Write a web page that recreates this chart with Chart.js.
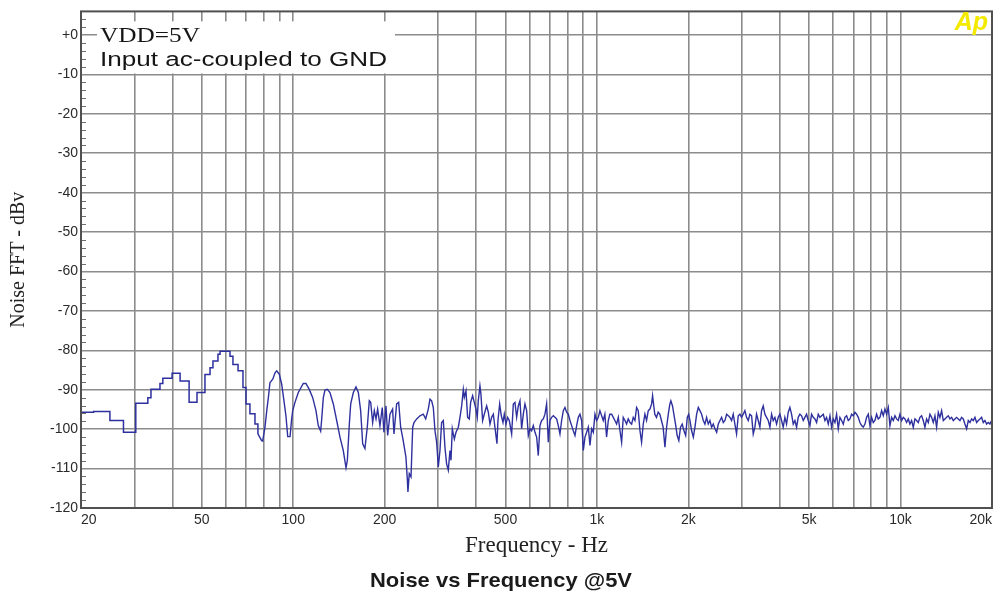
<!DOCTYPE html>
<html>
<head>
<meta charset="utf-8">
<title>Noise vs Frequency @5V</title>
<script src="https://cdn.jsdelivr.net/npm/chart.js@4.4.0/dist/chart.umd.min.js"></script>
<style>
  html, body { margin: 0; padding: 0; background: #fff; }
  #wrap { width: 997px; height: 598px; }
</style>
</head>
<body>
<div id="wrap"><canvas id="noiseChart" width="997" height="598"></canvas></div>
<script>
// [Hz, dBV]. Low bins are drawn as steps.
var lowBins = [
  [20, -95.7], [22.0, -95.5], [24.9, -97.8], [27.6, -100.8], [30.3, -93.4], [33.2, -92.0],
  [34.0, -89.9], [36.4, -88.4], [37.2, -87.1], [39.9, -85.8], [42.4, -87.8], [45.4, -93.2],
  [48.2, -90.7], [51.2, -86.1], [53.2, -84.4], [54.4, -82.7], [56.5, -81.0], [57.4, -80.2],
  [61.9, -81.5], [63.3, -83.6], [65.8, -85.2], [68.3, -89.4], [69.9, -93.6], [72.0, -96.1],
  [74.8, -98.7], [76.5, -101.2]
];

var midTrace = [
  [76.5, -101.2], [78.7, -102.9], [79.3, -103.0], [80.7, -99.5], [81.8, -95.3], [82.8, -92.0],
  [83.8, -88.2], [85.6, -87.3], [87.1, -85.7], [88.2, -85.2], [90.0, -86.1], [91.6, -88.6],
  [92.7, -91.5], [94.6, -96.6], [95.9, -101.9], [97.6, -101.9], [98.8, -97.4], [99.6, -95.3],
  [101.3, -93.2], [103.9, -90.7], [107.9, -88.4], [110.1, -88.4], [112.9, -89.9], [115.9, -92.0],
  [118.8, -95.3], [120.9, -99.1], [123.1, -100.5], [124.1, -97.4], [125.6, -92.0], [127.2, -90.1],
  [129.4, -89.9], [132.1, -90.7], [135.5, -93.6], [139.0, -97.8], [142.5, -102.0], [146.1, -105.4],
  [149.2, -109.8], [150.7, -107.9], [153.0, -98.7], [154.6, -93.6], [157.7, -90.7], [160.9, -89.3],
  [163.8, -90.7], [166.7, -95.3], [169.3, -103.7], [172.2, -104.9], [175.3, -99.5], [178.0, -92.8],
  [179.9, -93.2], [182.6, -98.3], [184.9, -95.3], [187.3, -97.4], [189.6, -94.9], [193.0, -99.1],
  [196.4, -94.5], [198.9, -100.8], [202.0, -94.1], [204.6, -101.6], [208.2, -96.2], [212.4, -94.9],
  [214.6, -101.2], [219.0, -93.6], [222.4, -93.2], [225.8, -99.5], [230.2, -102.9], [235.0, -107.1],
  [237.4, -112.5], [238.6, -115.9], [241.0, -111.3], [244.2, -112.1], [247.4, -99.5], [249.8, -98.3],
  [255.0, -97.4], [261.4, -96.6], [268.0, -96.2], [273.0, -97.4], [278.4, -94.9]
];

var kiloTrace = [
  [282.0, -92.4], [285.6, -92.8], [289.2, -94.5], [292.9, -100.4], [296.6, -103.3], [300.4, -109.6],
  [304.2, -105.4], [308.0, -98.3], [312.0, -97.8], [315.9, -104.6], [319.9, -108.8], [324.0, -110.4],
  [328.2, -105.4], [330.7, -107.9], [334.0, -99.9], [339.2, -102.5], [343.5, -100.8], [349.6, -99.5],
  [354.0, -97.0], [358.6, -94.1], [363.1, -89.9], [365.9, -91.9], [370.5, -90.3], [375.2, -97.0],
  [380.0, -97.4], [383.8, -93.2], [389.7, -91.5], [394.6, -93.2], [399.6, -94.9], [403.6, -97.0],
  [406.7, -92.8], [411.9, -89.0], [415.0, -91.1], [420.3, -97.8], [425.6, -96.2], [433.4, -94.1],
  [438.9, -95.7], [444.5, -98.7], [450.1, -97.0], [455.9, -96.2], [468.6, -103.7], [472.2, -97.8],
  [478.3, -93.6], [484.4, -96.6], [490.5, -98.3], [495.4, -96.2], [501.7, -98.7], [508.1, -97.0],
  [514.5, -97.8], [523.8, -101.2], [530.5, -93.6], [537.2, -93.2], [544.1, -97.0], [550.9, -94.1],
  [558.0, -92.8], [565.1, -99.9], [572.3, -96.2], [579.5, -93.6], [586.9, -95.3], [594.4, -101.6],
  [601.9, -99.9], [609.6, -100.4], [617.3, -99.1], [625.2, -100.8], [633.1, -102.0], [641.1, -106.7],
  [649.3, -99.1], [657.5, -97.8], [665.9, -97.4], [674.4, -96.2], [682.9, -93.6], [691.6, -103.3],
  [700.4, -97.8], [709.3, -97.0], [718.4, -96.6], [727.5, -97.0], [736.8, -97.4], [746.1, -99.1],
  [755.6, -101.2], [765.2, -97.8], [775.0, -95.3], [784.8, -94.5], [794.8, -95.7], [804.9, -96.2],
  [815.2, -97.8], [825.6, -99.1], [836.0, -100.4], [846.7, -101.6], [857.5, -99.1], [868.4, -97.0],
  [879.4, -96.2], [890.6, -97.8], [902.0, -105.4], [913.4, -102.0], [925.0, -100.8], [936.8, -99.5],
  [948.7, -104.1], [960.7, -99.9], [972.9, -100.8], [985.3, -96.2], [997.8, -97.8], [1010.5, -97.0],
  [1023, -95.3]
];

var upperTrace = [
  [1049, -97.8], [1062, -96.2], [1076, -102.0], [1090, -97.8], [1103, -96.2], [1118, -96.2],
  [1132, -97.0], [1146, -97.8], [1161, -98.7], [1176, -97.0], [1191, -100.4], [1206, -103.3],
  [1221, -97.0], [1237, -97.8], [1252, -98.7], [1268, -97.4], [1285, -98.3], [1301, -98.7],
  [1317, -97.0], [1334, -97.8], [1351, -94.5], [1368, -95.3], [1386, -100.4], [1403, -103.3],
  [1421, -98.7], [1439, -96.2], [1457, -97.8], [1476, -95.3], [1495, -94.9], [1514, -93.6],
  [1525, -91.5], [1541, -94.5], [1551, -96.2], [1571, -97.0], [1591, -95.7], [1611, -96.2],
  [1631, -97.8], [1652, -99.5], [1675, -104.6], [1696, -99.5], [1718, -96.2], [1739, -93.6],
  [1752, -92.8], [1774, -94.1], [1792, -96.2], [1815, -98.7], [1838, -101.6], [1861, -102.9],
  [1885, -99.5], [1909, -98.7], [1935, -100.4], [1960, -101.6], [1984, -97.0], [2005, -96.2],
  [2025, -97.8], [2051, -100.4], [2077, -102.0], [2103, -99.5], [2130, -96.2], [2157, -94.5],
  [2184, -95.3], [2212, -96.2], [2240, -97.8], [2268, -98.7], [2297, -97.0], [2326, -98.7],
  [2356, -97.8], [2386, -99.5], [2416, -98.7], [2447, -99.9], [2479, -100.8], [2510, -98.7],
  [2542, -97.8], [2574, -97.0], [2607, -98.3], [2640, -97.8], [2674, -96.2], [2708, -96.6],
  [2742, -97.0], [2777, -97.8], [2811, -96.2], [2847, -98.7], [2883, -101.2], [2920, -96.6],
  [2957, -96.2], [2994, -97.0], [3032, -96.2], [3071, -95.3], [3110, -97.0], [3150, -97.8],
  [3190, -96.2], [3231, -96.6], [3272, -101.2], [3313, -99.5], [3355, -96.2], [3398, -97.8],
  [3441, -99.5], [3485, -95.3], [3529, -94.1], [3574, -96.2], [3620, -97.0], [3666, -97.8],
  [3713, -99.5], [3760, -96.2], [3807, -97.8], [3856, -97.0], [3905, -98.7], [3954, -97.0],
  [4005, -96.2], [4055, -97.8], [4107, -99.5], [4159, -97.0], [4212, -98.7], [4266, -95.7],
  [4320, -94.5], [4375, -96.2], [4431, -98.7], [4487, -97.8], [4544, -99.5], [4602, -97.0]
];

var topTrace = [
  [4661, -96.2], [4720, -96.6], [4780, -97.8], [4841, -97.0], [4903, -96.2], [4965, -97.8],
  [5028, -99.1], [5092, -96.2], [5157, -97.0], [5223, -97.4], [5289, -98.3], [5356, -96.2],
  [5425, -97.0], [5494, -96.6], [5564, -96.2], [5635, -97.8], [5706, -97.0], [5779, -98.7],
  [5853, -96.6], [5927, -99.5], [6002, -97.4], [6079, -98.3], [6156, -96.2], [6234, -99.9],
  [6313, -97.0], [6394, -97.8], [6475, -98.7], [6557, -97.0], [6641, -96.6], [6725, -97.8],
  [6811, -97.4], [6897, -96.2], [6985, -96.6], [7074, -95.7], [7164, -96.2], [7255, -97.0],
  [7347, -98.3], [7441, -99.1], [7535, -99.5], [7631, -98.7], [7728, -97.0], [7827, -96.2],
  [7927, -99.1], [8027, -97.0], [8129, -98.3], [8233, -97.8], [8337, -96.2], [8443, -97.4],
  [8551, -97.0], [8660, -95.3], [8770, -96.6], [8881, -94.9], [8994, -96.2], [9109, -94.5],
  [9224, -99.1], [9342, -97.0], [9461, -97.8], [9581, -96.6], [9703, -97.4], [9826, -97.8],
  [9951, -96.2], [10078, -97.8], [10206, -97.0], [10336, -97.4], [10467, -98.3], [10600, -97.4],
  [10735, -98.7], [10872, -97.8], [11010, -99.5], [11150, -97.4], [11292, -97.8], [11436, -98.3],
  [11581, -97.0], [11728, -96.6], [11877, -97.8], [12028, -99.5], [12181, -97.4], [12336, -98.3],
  [12493, -96.2], [12652, -97.0], [12813, -98.3], [12976, -96.6], [13141, -99.5], [13308, -95.7],
  [13477, -97.0], [13649, -95.3], [13823, -97.8], [13998, -97.4], [14176, -97.0], [14357, -96.6],
  [14539, -97.4], [14724, -97.0], [14912, -97.8], [15101, -97.4], [15293, -97.0], [15488, -97.4],
  [15685, -97.8], [15885, -97.0], [16087, -97.4], [16291, -98.7], [16499, -99.9], [16709, -97.8],
  [16921, -98.3], [17137, -97.4], [17353, -97.8], [17574, -97.0], [17798, -98.3], [18024, -97.8],
  [18254, -97.4], [18486, -97.0], [18721, -98.3], [18959, -97.8], [19200, -98.7], [19445, -98.3],
  [19691, -98.7], [19942, -97.8], [20000, -98.3]
];

var gridFreqs = [20, 30, 40, 50, 60, 70, 80, 90, 100, 200, 300, 400, 500, 600, 700, 800, 900,
  1000, 2000, 3000, 4000, 5000, 6000, 7000, 8000, 9000, 10000, 20000];
var xLabelFreqs = [20, 50, 100, 200, 500, 1000, 2000, 5000, 10000, 20000];
var xLabelTexts = ['20', '50', '100', '200', '500', '1k', '2k', '5k', '10k', '20k'];
var yTickVals = [-120, -110, -100, -90, -80, -70, -60, -50, -40, -30, -20, -10, 0];

var noteLines = ['VDD=5V', 'Input ac-coupled to GND'];
var captionText = 'Noise vs Frequency @5V';

var traceColor = '#2e309e';
var gridColor = '#8c8c8c';

function toPoints(list) {
  return list.map(function (p) { return { x: p[0], y: p[1] }; });
}

// draws text squeezed/stretched to a given width (the source text is wide)
function drawFitted(ctx, text, x, baseline, font, width) {
  ctx.font = font;
  ctx.textAlign = 'left';
  ctx.textBaseline = 'alphabetic';
  var sx = width / ctx.measureText(text).width;
  ctx.save();
  ctx.translate(x, baseline);
  ctx.scale(sx, 1);
  ctx.fillText(text, 0, 0);
  ctx.restore();
}

var chartDecor = {
  id: 'chartDecor',
  beforeDatasetsDraw: function (chart) {
    var ctx = chart.ctx, area = chart.chartArea, y = chart.scales.y;
    ctx.save();

    // minor ticks every 2 dB on the left edge
    ctx.strokeStyle = '#6e6e6e';
    ctx.lineWidth = 1;
    for (var v = -118; v < 6; v += 2) {
      if (v % 10 === 0) continue;
      var py = Math.round(y.getPixelForValue(v)) + 0.5;
      ctx.beginPath();
      ctx.moveTo(area.left, py);
      ctx.lineTo(area.left + 5, py);
      ctx.stroke();
    }

    // note box
    var boxBottom = y.getPixelForValue(-10) - 1;
    ctx.fillStyle = '#fff';
    ctx.fillRect(area.left + 16, area.top + 10, 298, boxBottom - area.top - 10);
    ctx.fillStyle = '#151515';
    drawFitted(ctx, noteLines[0], area.left + 19, 42, '21px "Liberation Serif", serif', 100);
    drawFitted(ctx, noteLines[1], area.left + 19, 66, '20px "Liberation Sans", Arial, sans-serif', 287);
    ctx.restore();
  },
  afterDraw: function (chart) {
    var ctx = chart.ctx, area = chart.chartArea;
    ctx.save();
    ctx.strokeStyle = '#505050';
    ctx.lineWidth = 2;
    ctx.strokeRect(area.left, area.top, area.right - area.left, area.bottom - area.top);

    ctx.fillStyle = '#f3ea00';
    ctx.font = 'italic bold 25px "Liberation Sans", Arial, sans-serif';
    ctx.textAlign = 'right';
    ctx.textBaseline = 'alphabetic';
    ctx.fillText('Ap', area.right - 4, 30);

    ctx.fillStyle = '#1a1a1a';
    drawFitted(ctx, captionText, 370, 587, 'bold 21px "Liberation Sans", Arial, sans-serif', 262);
    ctx.restore();
  }
};

new Chart(document.getElementById('noiseChart'), {
  type: 'line',
  data: {
    datasets: [{
      data: toPoints(lowBins),
      stepped: true,
      borderColor: traceColor,
      borderWidth: 1.5,
      pointRadius: 0,
      fill: false
    }, {
      data: toPoints(midTrace.concat(kiloTrace, upperTrace, topTrace)),
      borderColor: traceColor,
      borderWidth: 1.4,
      pointRadius: 0,
      tension: 0,
      fill: false
    }]
  },
  options: {
    responsive: false,
    animation: false,
    layout: { padding: { left: 0, right: 5, top: 8, bottom: 0 } },
    plugins: { legend: { display: false }, tooltip: { enabled: false } },
    scales: {
      x: {
        type: 'logarithmic',
        min: 20,
        max: 20000,
        afterBuildTicks: function (scale) {
          scale.ticks = gridFreqs.map(function (v) { return { value: v }; });
        },
        afterFit: function (scale) {
          scale.height = 90;
          scale.paddingLeft = 0;
          scale.paddingRight = 0;
        },
        ticks: {
          autoSkip: false,
          maxRotation: 0,
          minRotation: 0,
          align: 'inner',
          padding: 4,
          color: '#2a2a2a',
          font: { family: '"Liberation Sans", Arial, sans-serif', size: 14 },
          callback: function (value) {
            var i = xLabelFreqs.indexOf(value);
            return i >= 0 ? xLabelTexts[i] : '';
          }
        },
        grid: { color: gridColor, lineWidth: 1.6, drawTicks: false },
        border: { display: false },
        title: {
          display: true,
          text: 'Frequency - Hz',
          color: '#222',
          font: { family: '"Liberation Serif", serif', size: 23 },
          padding: { top: 0, bottom: 38 }
        }
      },
      y: {
        min: -120,
        max: 6,
        afterBuildTicks: function (scale) {
          scale.ticks = yTickVals.map(function (v) { return { value: v }; });
        },
        afterFit: function (scale) { scale.width = 81; },
        ticks: {
          padding: 3,
          color: '#2a2a2a',
          font: { family: '"Liberation Sans", Arial, sans-serif', size: 14 },
          callback: function (value) { return value === 0 ? '+0' : String(value); }
        },
        grid: { color: gridColor, lineWidth: 1.6, drawTicks: false },
        border: { display: false },
        title: {
          display: true,
          text: 'Noise FFT - dBv',
          color: '#222',
          font: { family: '"Liberation Serif", serif', size: 20 },
          padding: { top: 7 }
        }
      }
    }
  },
  plugins: [chartDecor]
});
</script>
</body>
</html>
